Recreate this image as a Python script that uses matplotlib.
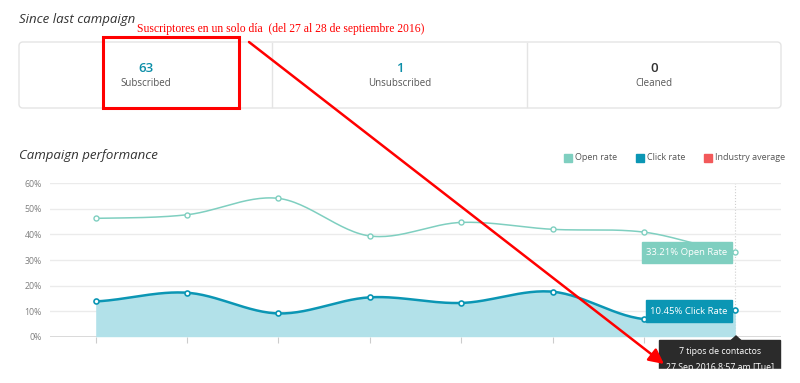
import numpy as np
import matplotlib.pyplot as plt
from matplotlib.patches import Rectangle, FancyBboxPatch, Polygon

plt.rcParams['font.family'] = ['Open Sans', 'DejaVu Sans']

# data
campaigns = np.arange(8)
open_rate = [46.3, 47.7, 54.1, 39.4, 44.7, 42.0, 40.9, 33.21]
click_rate = [13.8, 17.2, 9.1, 15.4, 13.2, 17.6, 6.9, 10.45]
y_ticks = [0, 10, 20, 30, 40, 50, 60]
stats = [('63', 'Subscribed'), ('1', 'Unsubscribed'), ('0', 'Cleaned')]
legend_items = ['Open rate', 'Click rate', 'Industry average']

c_open = '#7fcfc0'
c_click = '#0b96b4'
c_fill = '#b2e1e9'
c_ind = '#f2595a'


def smooth(xs, ys, n=30):
    # catmull-rom through the points
    xs = np.asarray(xs, float)
    ys = np.asarray(ys, float)
    px = np.concatenate([[2 * xs[0] - xs[1]], xs, [2 * xs[-1] - xs[-2]]])
    py = np.concatenate([[ys[0]], ys, [ys[-1]]])
    ox, oy = [], []
    for i in range(1, len(px) - 2):
        t = np.linspace(0, 1, n)
        for p, out in ((px, ox), (py, oy)):
            p0, p1, p2, p3 = p[i - 1], p[i], p[i + 1], p[i + 2]
            out.extend(0.5 * ((2 * p1) + (-p0 + p2) * t
                              + (2 * p0 - 5 * p1 + 4 * p2 - p3) * t ** 2
                              + (-p0 + 3 * p1 - 3 * p2 + p3) * t ** 3))
    return np.array(ox), np.array(oy)


fig = plt.figure(figsize=(8, 3.83), dpi=100)
W, H = 800, 383

# chart area
ax = fig.add_axes([50 / W, (H - 336.7) / H, 731 / W, 153.4 / H])
ax.set_xlim(-0.5, 7.5)
ax.set_ylim(0, 60)
for s in ax.spines.values():
    s.set_visible(False)
ax.set_yticks(y_ticks)
ax.set_yticklabels([f'{v}%' for v in y_ticks], color='#808080', fontsize=6.3)
ax.tick_params(axis='y', length=0, pad=6)
ax.set_xticks(campaigns)
ax.set_xticklabels([])
ax.tick_params(axis='x', length=4, color='#cccccc', width=0.8)
ax.grid(axis='y', color='#ebebeb', linewidth=1)
ax.axhline(0, color='#d6d6d6', linewidth=1.4, zorder=1)
ax.axvline(campaigns[-1], color='#cfcfcf', linewidth=0.8, linestyle=':', zorder=1)

sx, sy = smooth(campaigns, click_rate)
ax.fill_between(sx, 0, sy, color=c_fill, zorder=2, linewidth=0)
ax.plot(sx, sy, color=c_click, linewidth=1.8, zorder=3)
ax.plot(campaigns, click_rate, 'o', ms=3.6, mfc='white', mec=c_click, mew=1.2, zorder=4)

ox_, oy_ = smooth(campaigns, open_rate)
ax.plot(ox_, oy_, color=c_open, linewidth=1.1, zorder=3)
ax.plot(campaigns, open_rate, 'o', ms=3.6, mfc='white', mec=c_open, mew=1.0, zorder=4)

# overlay in pixel coordinates
ov = fig.add_axes([0, 0, 1, 1], zorder=10)
ov.set_xlim(0, W)
ov.set_ylim(H, 0)
ov.axis('off')
ov.patch.set_alpha(0)

ov.text(19, 20, 'Since last campaign', fontsize=9.5, style='italic', color='#333333', va='center')
ov.add_patch(FancyBboxPatch((19, 42), 762, 66, boxstyle='round,pad=0,rounding_size=4',
                            fc='white', ec='#e4e4e4', lw=1))
ov.plot([272, 272], [43, 107], color='#e4e4e4', lw=1)
ov.plot([527, 527], [43, 107], color='#e4e4e4', lw=1)
for cx, (num, lab), col in zip([146, 400, 654], stats, ['#0b8ea8', '#0b8ea8', '#333333']):
    ov.text(cx, 69, num, fontsize=9.5, color=col, ha='center', va='center', fontweight='semibold')
    ov.text(cx, 83, lab, fontsize=7, color='#555555', ha='center', va='center')

ov.text(19, 156, 'Campaign performance', fontsize=9.5, style='italic', color='#333333', va='center')
for lx, lab, col in zip([564, 636, 704], legend_items, [c_open, c_click, c_ind]):
    ov.add_patch(Rectangle((lx, 154), 8, 8, color=col))
    ov.text(lx + 11, 158, lab, fontsize=6.5, color='#555555', va='center')

# value labels at the end
ov.add_patch(Rectangle((642, 242), 90, 21, color=c_open, zorder=5))
ov.text(687, 252.5, f'{open_rate[-1]:.2f}% Open Rate', color='white', fontsize=6.8,
        ha='center', va='center', zorder=6)
ov.add_patch(Rectangle((646, 300), 86, 22, color=c_click, zorder=5))
ov.text(689, 311, f'{click_rate[-1]:.2f}% Click Rate', color='white', fontsize=6.8,
        ha='center', va='center', zorder=6)

# tooltip (cut off by the bottom of the screenshot)
ov.add_patch(Rectangle((659, 340), 121, 50, color='#2b2b2b', zorder=5))
ov.add_patch(Polygon([[731, 340.5], [736, 336], [741, 340.5]], closed=True, color='#2b2b2b', zorder=5))
ov.text(720, 351, '7 tipos de contactos', color='white', fontsize=6.3, ha='center', va='center', zorder=6)
ov.text(720, 367, '27 Sep 2016 8:57 am [Tue]', color='white', fontsize=6.3, ha='center', va='center', zorder=6)
ov.add_patch(Rectangle((655, 368.5), 135, 20, color='white', zorder=6.5))

# red annotation
ov.add_patch(Rectangle((103, 37), 136, 71, fill=False, ec='#ff0000', lw=2.2, zorder=7))
ov.text(137, 29, 'Suscriptores en un solo día  (del 27 al 28 de septiembre 2016)',
        family='Liberation Serif', color='#ff0000', fontsize=8.4, va='center', zorder=7)
ov.annotate('', xy=(664, 364), xytext=(249, 42),
            arrowprops=dict(arrowstyle='-|>,head_length=0.9,head_width=0.45', color='#ff0000', lw=1.8,
                            shrinkA=0, shrinkB=0), zorder=8)

fig.savefig('out.png', dpi=100)
